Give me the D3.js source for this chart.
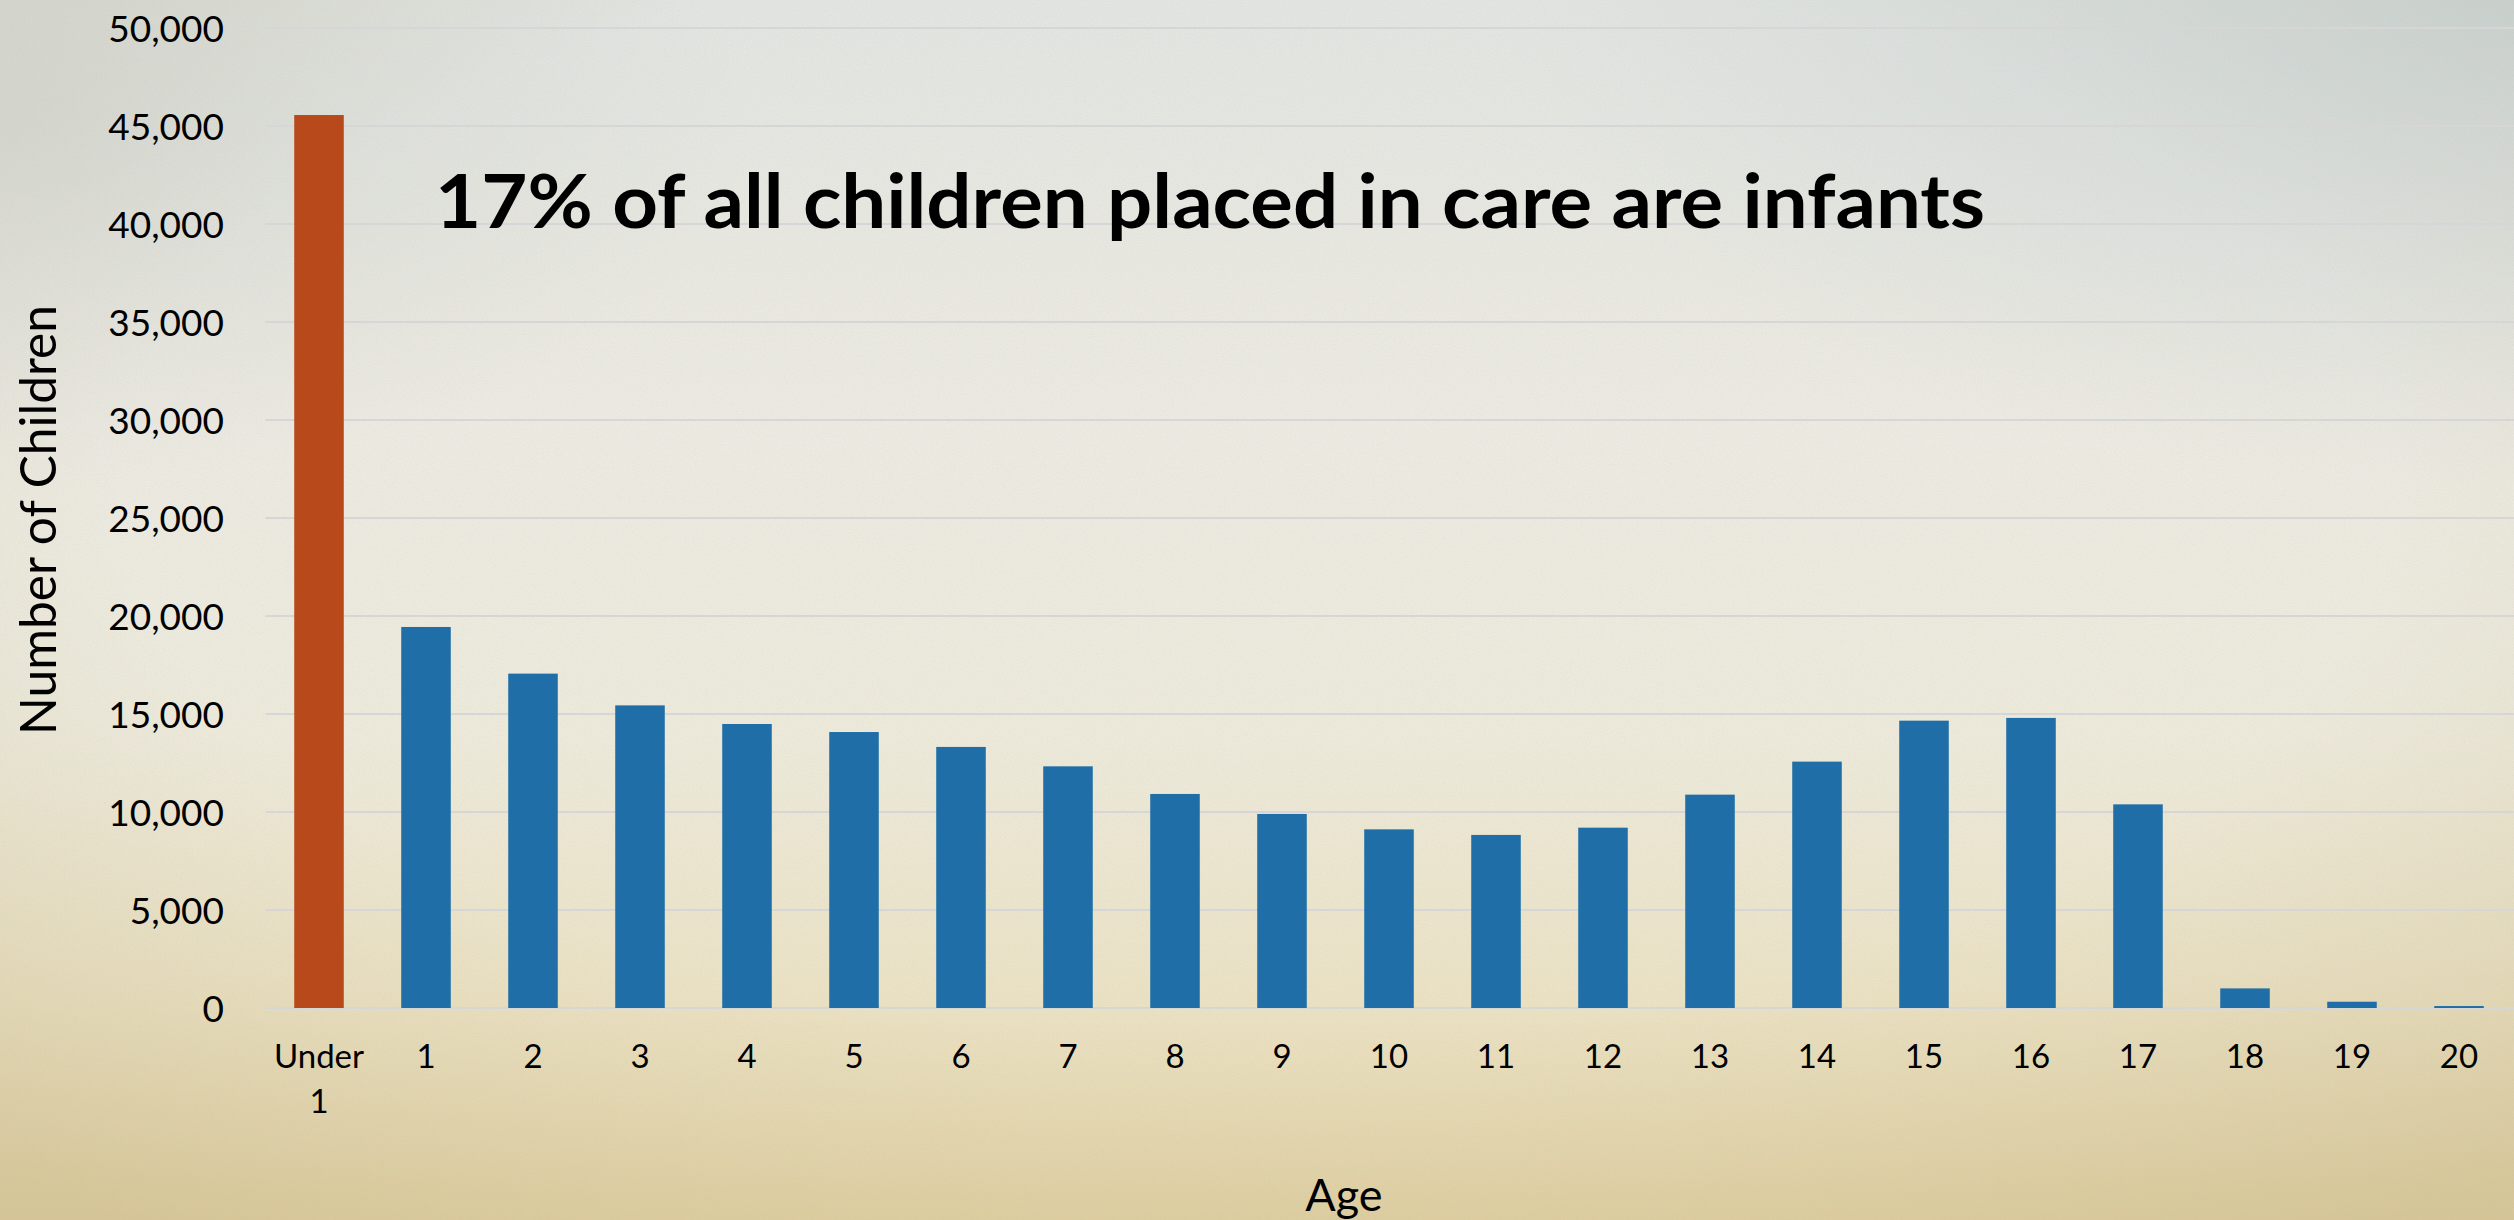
<!DOCTYPE html>
<html>
<head>
<meta charset="utf-8">
<script src="https://cdn.jsdelivr.net/npm/d3@7"></script>
<style>
  html, body { margin: 0; padding: 0; overflow: hidden; background: #e8e6dc; }
  svg { display: block; }
  text { font-family: Lato, "Open Sans", sans-serif; fill: #000; }
</style>
</head>
<body>
<svg id="chart" width="2514" height="1220"></svg>
<script>
// ---- data ----
const categories = ["Under 1","1","2","3","4","5","6","7","8","9","10","11","12","13","14","15","16","17","18","19","20"];
const children = [45560,19440,17060,15440,14490,14080,13320,12330,10920,9900,9115,8830,9200,10885,12570,14660,14800,10390,1000,320,100];
const highlightCategory = "Under 1";
const yTicks = [0,5000,10000,15000,20000,25000,30000,35000,40000,45000,50000];
const titleText = "17% of all children placed in care are infants";
const yAxisTitle = "Number of Children";
const xAxisTitle = "Age";

// ---- layout ----
const W = 2514, H = 1220;
const svg = d3.select("#chart");
const defs = svg.append("defs");

// background gradients
const lg = defs.append("linearGradient").attr("id","bgV").attr("x1",0).attr("y1",0).attr("x2",0).attr("y2",1);
[["0%","#e2e5e1"],["35%","#eceae2"],["60%","#edeadc"],["82%","#ebe2c4"],["100%","#e3d4a8"]]
  .forEach(([o,c]) => lg.append("stop").attr("offset",o).attr("stop-color",c));
const rg = defs.append("radialGradient").attr("id","vig").attr("cx","50%").attr("cy","40%").attr("r","75%");
rg.append("stop").attr("offset","60%").attr("stop-color","#b09a60").attr("stop-opacity",0);
rg.append("stop").attr("offset","100%").attr("stop-color","#a08a50").attr("stop-opacity",0.2);
const tr = defs.append("radialGradient").attr("id","tr").attr("cx","100%").attr("cy","0%").attr("r","40%");
tr.append("stop").attr("offset","0%").attr("stop-color","#b4c4ca").attr("stop-opacity",0.45);
tr.append("stop").attr("offset","100%").attr("stop-color","#b4c4ca").attr("stop-opacity",0);
const tl = defs.append("radialGradient").attr("id","tl").attr("cx","0%").attr("cy","10%").attr("r","30%");
tl.append("stop").attr("offset","0%").attr("stop-color","#c2c7c2").attr("stop-opacity",0.4);
tl.append("stop").attr("offset","100%").attr("stop-color","#c2c7c2").attr("stop-opacity",0);
const noise = defs.append("filter").attr("id","noise").attr("x",0).attr("y",0).attr("width","100%").attr("height","100%");
noise.append("feTurbulence").attr("type","fractalNoise").attr("baseFrequency","0.9").attr("numOctaves",2).attr("seed",3);
noise.append("feColorMatrix").attr("type","matrix")
  .attr("values","0 0 0 0 0.45  0 0 0 0 0.42  0 0 0 0 0.35  0 0 0 -1.4 0.9");

svg.append("rect").attr("width",W).attr("height",H).attr("fill","url(#bgV)");
svg.append("rect").attr("width",W).attr("height",H).attr("fill","url(#vig)");
svg.append("rect").attr("width",W).attr("height",H).attr("fill","url(#tr)");
svg.append("rect").attr("width",W).attr("height",H).attr("fill","url(#tl)");
svg.append("rect").attr("width",W).attr("height",H).attr("filter","url(#noise)").attr("opacity",0.15);

// scales
const plotLeft = 265.5, plotRight = 2512.5, plotTop = 28, plotBottom = 1008;
const x = d3.scaleBand().domain(categories).range([plotLeft, plotRight])
  .paddingInner(0.537).paddingOuter(0.2685);
const y = d3.scaleLinear().domain([0, 50000]).range([plotBottom, plotTop]);

// gridlines
svg.append("g").selectAll("line").data(yTicks).join("line")
  .attr("x1", plotLeft).attr("x2", W)
  .attr("y1", d => y(d)).attr("y2", d => y(d))
  .attr("stroke", "#d6d6d6").attr("stroke-width", 2);

// y axis (labels only)
const yAxis = d3.axisLeft(y).tickValues(yTicks).tickFormat(d3.format(",")).tickSize(0).tickPadding(0);
const yg = svg.append("g").attr("transform", "translate(224,0)").call(yAxis);
yg.select(".domain").remove();
yg.selectAll("text").attr("font-size", 37).attr("fill", "#000")
  .style("font-family", "Lato, 'Open Sans', sans-serif").attr("dy", "0.36em");

// bars
svg.append("g").selectAll("rect").data(categories).join("rect")
  .attr("x", d => x(d))
  .attr("width", x.bandwidth())
  .attr("y", (d,i) => y(children[i]))
  .attr("height", (d,i) => y(0) - y(children[i]))
  .attr("fill", d => d === highlightCategory ? "#b8491a" : "#1f6ea8");

// x axis labels
const xAxis = d3.axisBottom(x).tickSize(0).tickPadding(0);
const xg = svg.append("g").attr("transform", `translate(0,${plotBottom})`).call(xAxis);
xg.select(".domain").remove();
xg.selectAll("text").each(function(d) {
  const t = d3.select(this);
  t.text(null).attr("y", 0).attr("dy", null)
   .attr("font-size", 33).attr("fill", "#000")
   .style("font-family", "Lato, 'Open Sans', sans-serif");
  const parts = d.split(" ");
  parts.forEach((p, k) => {
    t.append("tspan").attr("x", 0).attr("y", 60 + k * 45).text(p);
  });
});

// title
svg.append("text")
  .attr("x", 435).attr("y", 228)
  .attr("font-size", 74).attr("font-weight", 700)
  .attr("textLength", 1550).attr("lengthAdjust", "spacingAndGlyphs")
  .text(titleText);

// axis titles
svg.append("text")
  .attr("transform", "translate(56,520) rotate(-90)")
  .attr("text-anchor", "middle")
  .attr("font-size", 50)
  .attr("textLength", 430).attr("lengthAdjust", "spacingAndGlyphs")
  .text(yAxisTitle);

svg.append("text")
  .attr("x", 1344).attr("y", 1211)
  .attr("text-anchor", "middle")
  .attr("font-size", 45)
  .text(xAxisTitle);
</script>
</body>
</html>
